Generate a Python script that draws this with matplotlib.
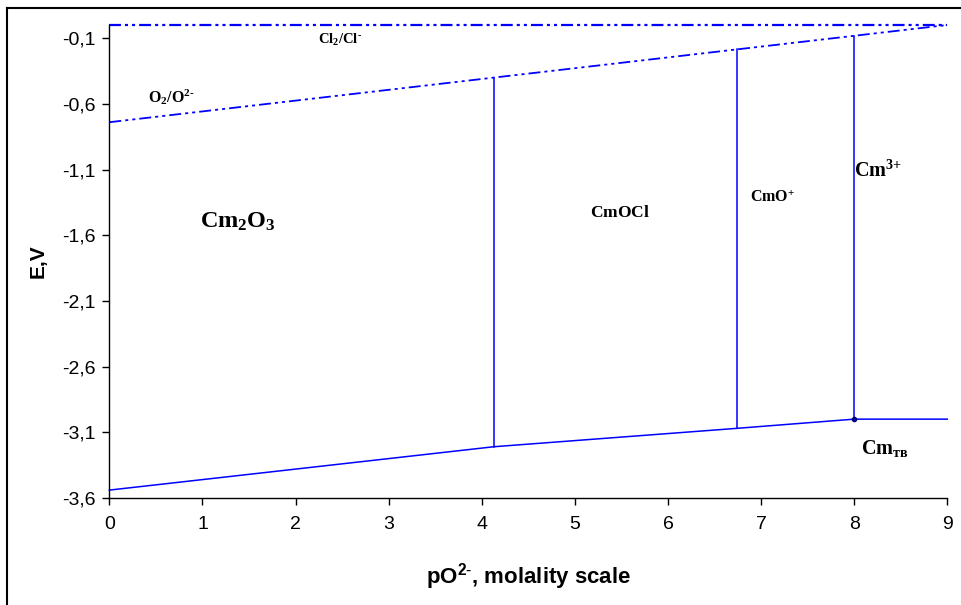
import numpy as np
import matplotlib
matplotlib.use('Agg')
import matplotlib.pyplot as plt
from matplotlib.lines import Line2D

plt.rcParams['font.family'] = ['Liberation Sans', 'DejaVu Sans']
plt.rcParams['mathtext.fontset'] = 'custom'
plt.rcParams['mathtext.rm'] = 'Liberation Serif:bold'
plt.rcParams['mathtext.bf'] = 'Liberation Serif:bold'
plt.rcParams['mathtext.sf'] = 'Liberation Sans:bold'
plt.rcParams['lines.scale_dashes'] = False

# equilibrium lines, E (V) vs pO2-
x_cl = [0.0, 9.0]
e_cl = [0.0, 0.0]
x_o2 = [0.0, 9.0]
e_o2 = [-0.74, 0.0]
x_cm = [0.0, 4.13, 6.74, 8.0, 9.0]
e_cm = [-3.54, -3.21, -3.07, -3.00, -3.00]
# phase boundaries (pO2- where the solid/ionic form changes)
x_bound = [4.13, 6.74, 8.0]

yticks = [-0.1, -0.6, -1.1, -1.6, -2.1, -2.6, -3.1, -3.6]
ytick_labels = ['-0,1', '-0,6', '-1,1', '-1,6', '-2,1', '-2,6', '-3,1', '-3,6']
xticks = [0, 1, 2, 3, 4, 5, 6, 7, 8, 9]

fig = plt.figure(figsize=(9.62, 6.05), dpi=100)
ax = fig.add_axes([0.1137, 0.1769, 0.8710, 0.7818])

blue = '#0000ff'
dash_dd = (0, (8.6, 2.9, 2.2, 2.9, 2.2, 2.9))

ax.plot(x_cl, e_cl, color=blue, lw=1.6, linestyle=dash_dd, clip_on=False)
ax.plot(x_o2, e_o2, color=blue, lw=1.3, linestyle=dash_dd, clip_on=False)
ax.plot(x_cm, e_cm, color=blue, lw=1.1, clip_on=False)
for xb in x_bound:
    top = np.interp(xb, x_o2, e_o2)
    bot = np.interp(xb, x_cm, e_cm)
    ax.plot([xb, xb], [bot, top], color=blue, lw=1.1)
ax.plot([x_bound[-1]], [np.interp(x_bound[-1], x_cm, e_cm)], 'o',
        color='#000080', ms=3)

ax.set_xlim(0, 9)
ax.set_ylim(-3.6, 0.0)
ax.set_xticks(xticks)
ax.set_xticklabels([str(t) for t in xticks])
ax.set_yticks(yticks)
ax.set_yticklabels(ytick_labels)
ax.tick_params(direction='out', length=5, width=1, labelsize=14)
ax.tick_params(axis='x', pad=8)
ax.tick_params(axis='y', pad=5)
for s in ['top', 'right']:
    ax.spines[s].set_visible(False)
for s in ['left', 'bottom']:
    ax.spines[s].set_linewidth(1.0)

ax.set_ylabel('E,V', fontsize=15, fontweight='bold', labelpad=10)
ax.set_xlabel(r'pO$\mathsf{^{2\text{-}}}$, molality scale', fontsize=16,
              fontweight='bold', labelpad=20)

# region labels
ax.text(2.48, -0.115, r'$\mathbf{Cl_2/Cl^{\text{-}}}$', fontsize=10.5, ha='center', va='center')
ax.text(0.66, -0.55, r'$\mathbf{O_2/O^{2\text{-}}}$', fontsize=11.5, ha='center', va='center')
ax.text(1.38, -1.50, r'$\mathbf{Cm_2O_3}$', fontsize=17.5, ha='center', va='center')
ax.text(5.48, -1.425, r'$\mathbf{CmOCl}$', fontsize=12.5, ha='center', va='center')
ax.text(7.12, -1.31, r'$\mathbf{CmO^{+}}$', fontsize=11.5, ha='center', va='center')
ax.text(8.26, -1.105, r'$\mathbf{Cm^{\text{3+}}}$', fontsize=14.5, ha='center', va='center')
ax.text(8.33, -3.22, r'$\mathbf{Cm_{тв}}$', fontsize=14.5, ha='center', va='center')

# outer frame
x0 = 6.5 / 962
y0 = 1 - 7.5 / 605
fig.add_artist(Line2D([x0, 1.0], [y0, y0], transform=fig.transFigure, color='black', lw=1.5))
fig.add_artist(Line2D([x0, x0], [0.0, y0], transform=fig.transFigure, color='black', lw=1.5))

fig.savefig('out.png', dpi=100)
